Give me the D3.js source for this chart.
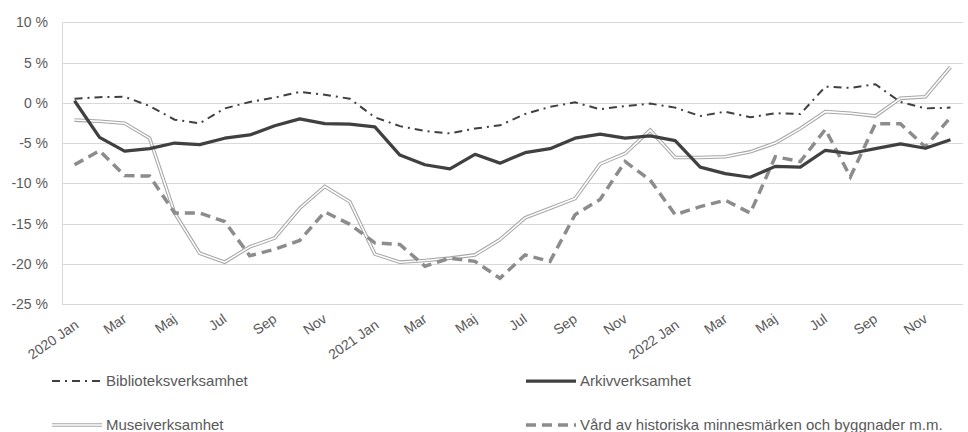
<!DOCTYPE html>
<html>
<head>
<meta charset="utf-8">
<script src="https://cdn.jsdelivr.net/npm/d3@7"></script>
<style>
  body { margin: 0; background: #fff; }
  svg { display: block; font-family: "Liberation Sans", Arial, sans-serif; }
  .tick-label { fill: #595959; font-size: 14px; }
  .legend-label { fill: #595959; font-size: 15px; }
</style>
</head>
<body>
<script>
// månader och år
const years = ['2020', '2021', '2022'];
const monthNames = ['Jan', 'Feb', 'Mar', 'Apr', 'Maj', 'Jun', 'Jul', 'Aug', 'Sep', 'Okt', 'Nov', 'Dec'];

// värden i procent, jan 2020 - dec 2022
const bibliotek = [0.5, 0.7, 0.75, -0.4, -2.1, -2.55, -0.7, 0.1, 0.65, 1.35, 1.0, 0.5,
    -1.8, -2.9, -3.5, -3.8, -3.2, -2.8, -1.4, -0.5, 0.05, -0.8, -0.4, -0.1,
    -0.6, -1.65, -1.1, -1.8, -1.3, -1.4, 2.0, 1.85, 2.3, 0.1, -0.7, -0.6];
const arkiv = [0.25, -4.3, -6.0, -5.7, -5.0, -5.2, -4.4, -4.0, -2.85, -2.0, -2.6, -2.65,
    -3.0, -6.5, -7.7, -8.2, -6.4, -7.5, -6.2, -5.7, -4.4, -3.9, -4.4, -4.1,
    -4.7, -8.0, -8.8, -9.25, -7.9, -8.0, -5.9, -6.3, -5.7, -5.1, -5.65, -4.6];
const museum = [-2.15, -2.3, -2.55, -4.4, -13.7, -18.7, -19.8, -17.9, -16.8, -13.1, -10.4, -12.3,
    -18.8, -19.8, -19.6, -19.3, -18.9, -17.0, -14.3, -13.1, -11.9, -7.6, -6.3, -3.4,
    -6.8, -6.8, -6.7, -6.1, -5.0, -3.2, -1.1, -1.3, -1.65, 0.55, 0.75, 4.45];
const vard = [-7.7, -5.95, -9.05, -9.1, -13.7, -13.7, -14.75, -19.0, -18.2, -17.1, -13.55, -15.1,
    -17.4, -17.6, -20.3, -19.3, -19.7, -21.8, -18.9, -19.7, -13.9, -12.0, -7.3, -9.6,
    -13.9, -12.9, -12.1, -13.7, -6.7, -7.3, -3.3, -9.2, -2.6, -2.6, -5.5, -1.8];

const yTicks = [10, 5, 0, -5, -10, -15, -20, -25];

const categories = [];
years.forEach(y => monthNames.forEach(m => categories.push(y + ' ' + m)));

const series = [
    { name: 'Biblioteksverksamhet', values: bibliotek, style: 'dashdot' },
    { name: 'Arkivverksamhet', values: arkiv, style: 'solid' },
    { name: 'Museiverksamhet', values: museum, style: 'double' },
    { name: 'Vård av historiska minnesmärken och byggnader m.m.', values: vard, style: 'dash' }
];

const width = 968, height = 432;
const svg = d3.select('body').append('svg')
    .attr('width', width)
    .attr('height', height);

const x = d3.scaleBand().domain(categories).range([62, 963]);
const y = d3.scaleLinear().domain([-25, 10]).range([304, 22.3]);
const cx = c => x(c) + x.bandwidth() / 2;

// rutnät
svg.append('g').selectAll('line')
    .data(yTicks)
    .enter().append('line')
    .attr('x1', 62).attr('x2', 963)
    .attr('y1', d => Math.round(y(d)) + 0.5).attr('y2', d => Math.round(y(d)) + 0.5)
    .attr('stroke', '#d9d9d9')
    .attr('stroke-width', 1);

svg.append('line')
    .attr('x1', 62.5).attr('x2', 62.5)
    .attr('y1', y(10)).attr('y2', y(-25))
    .attr('stroke', '#d9d9d9');

// y-etiketter
svg.append('g').selectAll('text')
    .data(yTicks)
    .enter().append('text')
    .attr('class', 'tick-label')
    .attr('x', 48)
    .attr('y', d => y(d) + 5)
    .attr('text-anchor', 'end')
    .text(d => d + ' %');

// x-etiketter, varannan månad
const labelCats = categories.filter((c, i) => i % 2 === 0);
svg.append('g').selectAll('text')
    .data(labelCats)
    .enter().append('text')
    .attr('class', 'tick-label')
    .attr('text-anchor', 'end')
    .attr('transform', d => {
        const isJan = d.endsWith('Jan');
        return `translate(${cx(d) + (isJan ? 5 : 3)},${isJan ? 327 : 321}) rotate(-35)`;
    })
    .text(d => {
        const [yr, m] = d.split(' ');
        return m === 'Jan' ? yr + ' Jan' : m;
    });

const line = d3.line()
    .x((d, i) => cx(categories[i]))
    .y(d => y(d));

function drawSeries(g, s, path) {
    if (s.style === 'dashdot') {
        g.append('path').attr('d', path).attr('fill', 'none')
            .attr('stroke', '#404040').attr('stroke-width', 2)
            .attr('stroke-dasharray', '8,5,2,5');
    } else if (s.style === 'solid') {
        g.append('path').attr('d', path).attr('fill', 'none')
            .attr('stroke', '#404040').attr('stroke-width', 3.25)
            .attr('stroke-linejoin', 'round');
    } else if (s.style === 'double') {
        g.append('path').attr('d', path).attr('fill', 'none')
            .attr('stroke', '#a6a6a6').attr('stroke-width', 3.6);
        g.append('path').attr('d', path).attr('fill', 'none')
            .attr('stroke', '#ffffff').attr('stroke-width', 1.5);
    } else {
        g.append('path').attr('d', path).attr('fill', 'none')
            .attr('stroke', '#8c8c8c').attr('stroke-width', 3.5)
            .attr('stroke-dasharray', '10,6');
    }
}

// ritordning: museum, vård, arkiv, bibliotek
const order = [2, 3, 1, 0];
order.forEach(k => {
    const s = series[k];
    drawSeries(svg.append('g'), s, line(s.values));
});

// legend
const legendPos = [
    { lx: 52, ly: 381 }, { lx: 526, ly: 381 },
    { lx: 52, ly: 425 }, { lx: 526, ly: 425 }
];
series.forEach((s, i) => {
    const p = legendPos[i];
    const g = svg.append('g');
    drawSeries(g, s, `M${p.lx},${p.ly}L${p.lx + 50},${p.ly}`);
    g.append('text')
        .attr('class', 'legend-label')
        .attr('x', p.lx + 54)
        .attr('y', p.ly + 5)
        .text(s.name);
});
</script>
</body>
</html>
